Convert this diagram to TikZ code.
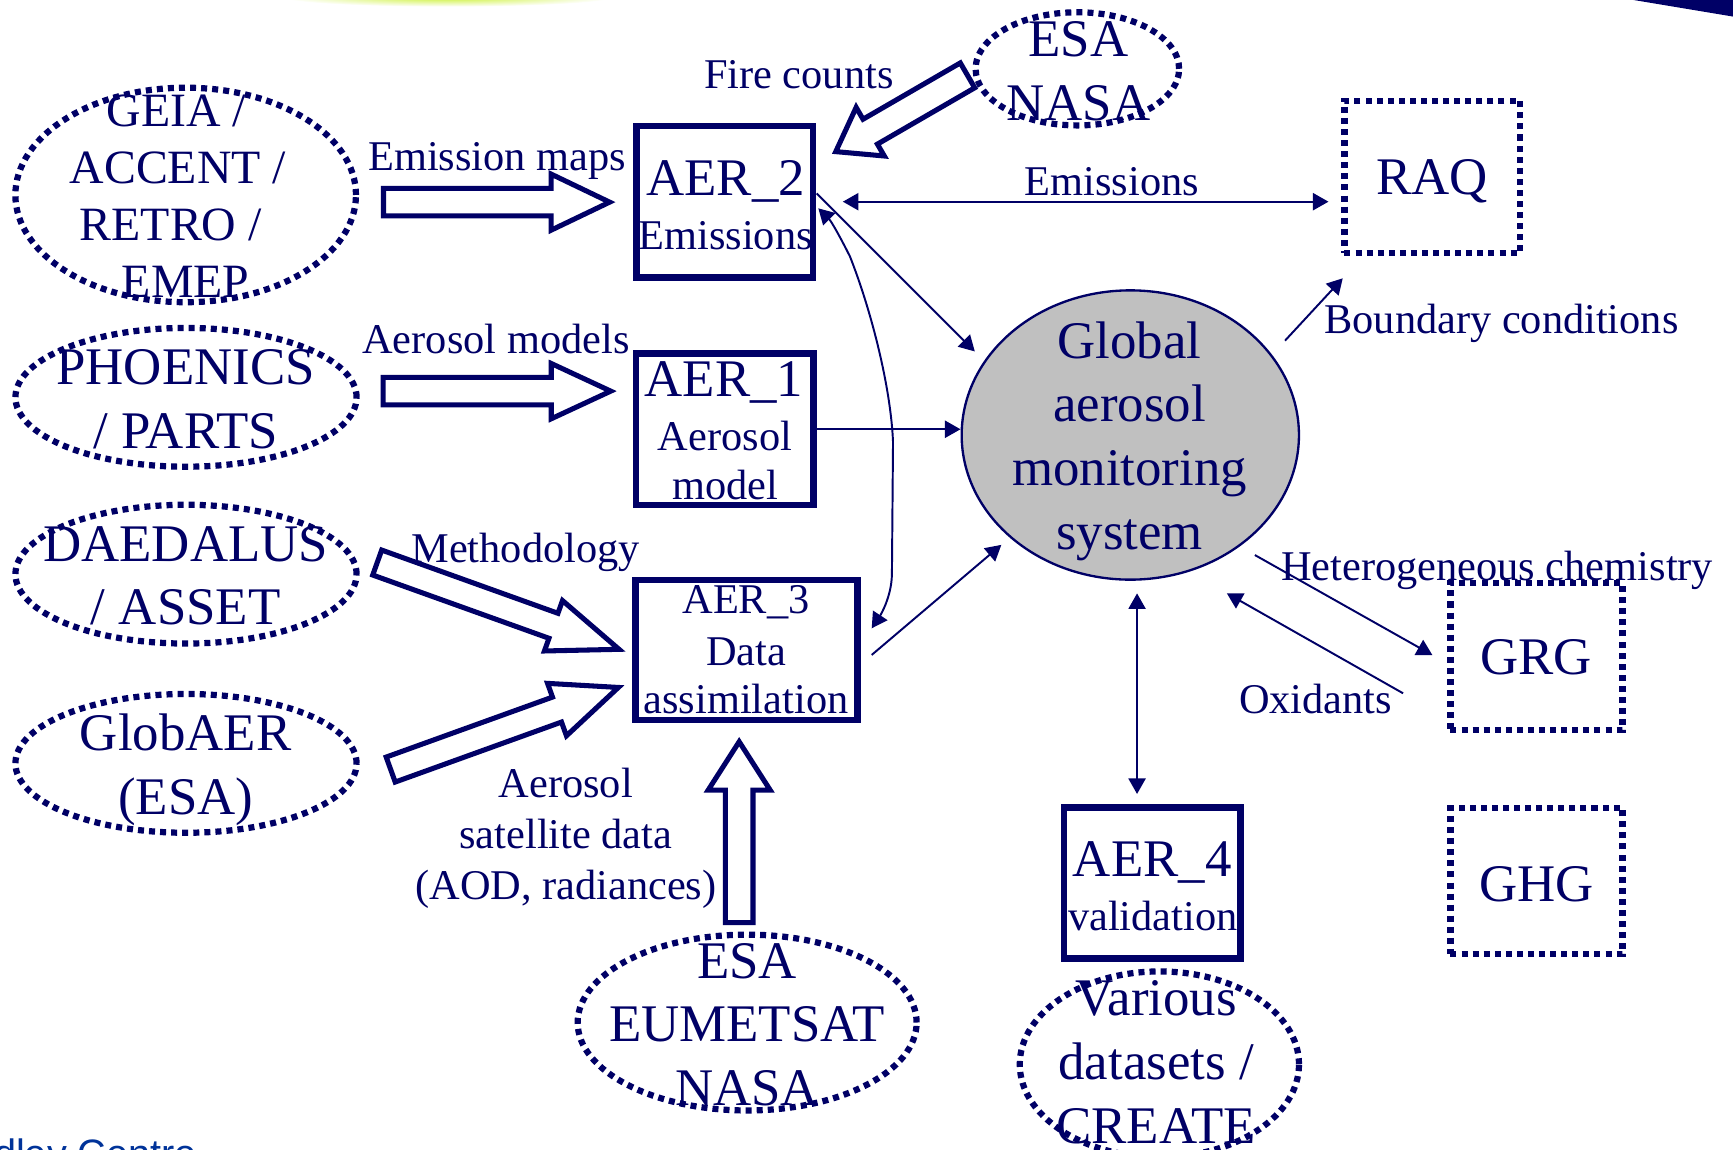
\documentclass[tikz,border=0pt]{standalone}
\usepackage{fontspec}
\setmainfont{Liberation Serif}
\newfontfamily\footfont{Liberation Sans}
\usetikzlibrary{shapes.geometric,arrows.meta,calc}
\definecolor{navy}{RGB}{0,0,102}
\definecolor{ellgray}{RGB}{192,192,192}
\definecolor{footblue}{RGB}{0,51,153}
\definecolor{glowcol}{RGB}{200,240,40}
\newcommand\blockarrow[5]{%
  \coordinate (bah) at ($(#2)!#5!(#1)$);
  \draw[barrow] ($(#1)!#3!90:(#2)$) -- ($(bah)!#3!-90:(#1)$) -- ($(bah)!#4!-90:(#1)$) -- (#2)
    -- ($(bah)!#4!90:(#1)$) -- ($(bah)!#3!90:(#1)$) -- ($(#1)!#3!-90:(#2)$) -- cycle;}
\tikzset{
  >={Triangle[length=4pt,width=4.4pt]},
  dotline/.style={draw=navy, line width=1.6pt, dash pattern=on 1.55pt off 1.3pt},
  srcell/.style={ellipse, dotline, inner sep=0pt},
  dotbox/.style={rectangle, dotline, inner sep=0pt},
  solidbox/.style={rectangle, draw=navy, line width=1.7pt, inner sep=0pt},
  barrow/.style={draw=navy, fill=white, line width=1.3pt, line join=miter},
  conn/.style={draw=navy, line width=0.5pt},
  bigtxt/.style={font=\fontsize{13.6pt}{16.4pt}\selectfont, text=navy, inner sep=0pt, align=center},
  smalltxt/.style={font=\fontsize{10.9pt}{13.2pt}\selectfont, text=navy, inner sep=0pt, align=center},
  geiatxt/.style={font=\fontsize{12.3pt}{14.65pt}\selectfont, text=navy, inner sep=0pt, align=center},
}
\begin{document}
\begin{tikzpicture}[x=0.01cm,y=-0.01cm]
\useasboundingbox (0,0) rectangle (1568,1040);
\fill[white] (0,0) rectangle (1568,1040);
\clip (0,0) rectangle (1568,1040);
% slide decorations
\shade[inner color=glowcol, outer color=white] (405,-3) ellipse [x radius=1.5cm, y radius=0.09cm];
\fill[navy] (1478,0) .. controls (1520,7) and (1550,12) .. (1568,15) -- (1568,0) -- cycle;

% source ellipses
\node[srcell, minimum width=3.08cm, minimum height=1.94cm] (geia) at (168,176.4) {};
\node[srcell, minimum width=3.085cm, minimum height=1.255cm] (phoenics) at (168.3,359.5) {};
\node[srcell, minimum width=3.085cm, minimum height=1.255cm] (daedalus) at (168.3,519.5) {};
\node[srcell, minimum width=3.085cm, minimum height=1.255cm] (globaer) at (168.3,690.7) {};
\node[srcell, minimum width=1.84cm, minimum height=1.023cm] (esatop) at (974.8,62.3) {};
\node[srcell, minimum width=3.065cm, minimum height=1.59cm] (esabot) at (676,925.2) {};
\node[srcell, minimum width=2.525cm, minimum height=1.68cm] (various) at (1049,963) {};

% boxes
\node[solidbox, minimum width=1.597cm, minimum height=1.37cm] (aer2) at (655.8,182.5) {};
\node[solidbox, minimum width=1.606cm, minimum height=1.373cm] (aer1) at (655.7,388.4) {};
\node[solidbox, minimum width=2.009cm, minimum height=1.267cm] (aer3) at (675.6,588.2) {};
\node[solidbox, minimum width=1.598cm, minimum height=1.365cm] (aer4) at (1042.7,798.8) {};
\node[dotbox, minimum width=1.588cm, minimum height=1.376cm] (raq) at (1295.9,160) {};
\node[dotbox, minimum width=1.556cm, minimum height=1.33cm] (grg) at (1390.2,594.2) {};
\node[dotbox, minimum width=1.556cm, minimum height=1.323cm] (ghg) at (1390.2,797.3) {};

% central system
\node[ellipse, draw=navy, line width=0.6pt, fill=ellgray, inner sep=0pt,
      minimum width=3.05cm, minimum height=2.616cm] (global) at (1022.7,393.6) {};

% block arrows
\coordinate (a1s) at (347,182.9);   \coordinate (a1t) at (551.6,182.9);
\coordinate (a2s) at (346.6,353.9); \coordinate (a2t) at (552.6,353.9);
\coordinate (a3s) at (341.3,509);   \coordinate (a3t) at (560.1,587.5);
\coordinate (a4s) at (353.5,696.3); \coordinate (a4t) at (559.5,622);
\coordinate (a5s) at (668.8,834.8); \coordinate (a5t) at (668.8,671.1);
\coordinate (a6s) at (875.4,68.2);  \coordinate (a6t) at (756.2,137.2);
\blockarrow{a1s}{a1t}{0.125cm}{0.254cm}{0.53cm}
\blockarrow{a2s}{a2t}{0.125cm}{0.25cm}{0.538cm}
\blockarrow{a3s}{a3t}{0.12cm}{0.242cm}{0.63cm}
\blockarrow{a4s}{a4t}{0.12cm}{0.252cm}{0.59cm}
\blockarrow{a5s}{a5t}{0.125cm}{0.28cm}{0.437cm}
\blockarrow{a6s}{a6t}{0.13cm}{0.254cm}{0.36cm}

% thin connectors
\coordinate (c1s) at (762.6,182.5); \coordinate (c1e) at (1202,182.5);
\coordinate (c2s) at (739,175);     \coordinate (c2e) at (882,318);
\coordinate (c3s) at (740.4,188.5); \coordinate (c3e) at (788.7,568.5);
\coordinate (c5s) at (788.7,592.6); \coordinate (c5e) at (906,493);
\coordinate (c6s) at (1162.7,308.2);\coordinate (c6e) at (1214.9,251.8);
\coordinate (c7s) at (1135.4,502.2);\coordinate (c7e) at (1296,592.7);
\coordinate (c8s) at (1269.5,627.3);\coordinate (c8e) at (1110,536.8);
\coordinate (c9s) at (1028.8,536.9);\coordinate (c9e) at (1028.8,718.4);
\draw[conn,<->] (c1s) -- (c1e);
\draw[conn,->] (c2s) -- (c2e);
\draw[conn,<->] (c3s) .. controls (752,200) and (760,214) .. (769,232)
   .. controls (788,280) and (806,350) .. (808,400) -- (807,520)
   .. controls (806.5,540) and (797,556) .. (c3e);
\draw[conn,->] (aer1.east) -- (aer1.east -| global.west);
\draw[conn,->] (c5s) -- (c5e);
\draw[conn,->] (c6s) -- (c6e);
\draw[conn,->] (c7s) -- (c7e);
\draw[conn,->] (c8s) -- (c8e);
\draw[conn,<->] (c9s) -- (c9e);

% texts in ellipses (anchor = baseline of the last line)
\node[geiatxt, anchor=base] (geiat) at (168,269) {GEIA /\kern0.166cm\\ACCENT /\kern0.14cm\\RETRO /\kern0.27cm\\EMEP};
\node[bigtxt, anchor=base] (phoenicst) at (168,405.5) {PHOENICS\\/ PARTS};
\node[bigtxt, anchor=base] (daedalust) at (168,565.5) {DAEDALUS\\/ ASSET};
\node[bigtxt, anchor=base] (globaert) at (168,736.8) {GlobAER\\(ESA)};
\node[bigtxt, anchor=base] (esatopt) at (975.6,108.6) {ESA\\NASA};
\node[bigtxt, anchor=base] (esabott) at (676,1000.4) {ESA\\EUMETSAT\\NASA};
\node[bigtxt, anchor=base] (varioust) at (1046,1034.5) {Various\\datasets /\\CREATE};
\node[bigtxt, anchor=base] (globalt) at (1022,497) {Global\\aerosol\\monitoring\\system};

% texts in boxes
\node[bigtxt, anchor=base] (aer2a) at (656.5,177.3) {AER\_2};
\node[smalltxt, anchor=base] (aer2b) at (656.5,225.6) {Emissions};
\node[bigtxt, anchor=base] (aer1a) at (655,358.9) {AER\_1};
\node[smalltxt, anchor=base] (aer1b) at (656,407.2) {Aerosol};
\node[smalltxt, anchor=base] (aer1c) at (656,452.4) {model};
\node[smalltxt, anchor=base] (aer3a) at (675,555) {AER\_3};
\node[smalltxt, anchor=base] (aer3b) at (675,601.7) {Data};
\node[smalltxt, anchor=base] (aer3c) at (675,646) {assimilation};
\node[bigtxt, anchor=base] (aer4a) at (1042.5,793.2) {AER\_4};
\node[smalltxt, anchor=base] (aer4b) at (1043,841.5) {validation};
\node[bigtxt, anchor=base] (raqt) at (1295.6,176.4) {RAQ};
\node[bigtxt, anchor=base] (grgt) at (1390,610.7) {GRG};
\node[bigtxt, anchor=base] (ghgt) at (1390,815.8) {GHG};

% connector labels
\node[smalltxt, anchor=base west] (lfire) at (636.3,79.9) {Fire counts};
\node[smalltxt, anchor=base west] (lemap) at (332.4,154.4) {Emission maps};
\node[smalltxt, anchor=base] (lemis) at (1006,177.3) {Emissions};
\node[smalltxt, anchor=base west] (lbound) at (1197.6,302.2) {Boundary conditions};
\node[smalltxt, anchor=base west] (lamod) at (327.2,320) {Aerosol models};
\node[smalltxt, anchor=base west] (lmeth) at (371.6,509) {Methodology};
\node[smalltxt, anchor=base west] (lhet) at (1158.6,524.8) {Heterogeneous chemistry};
\node[smalltxt, anchor=base west] (loxi) at (1120.5,645.4) {Oxidants};
\node[smalltxt, anchor=base] (lsat) at (512,814.3) {Aerosol\\satellite data\\(AOD, radiances)};

% footer fragment
\node[anchor=base west, font=\footfont\fontsize{10.2pt}{12pt}\selectfont, text=footblue, inner sep=0pt] (foot) at (-6,1056) {dley Centre};
\end{tikzpicture}
\end{document}
